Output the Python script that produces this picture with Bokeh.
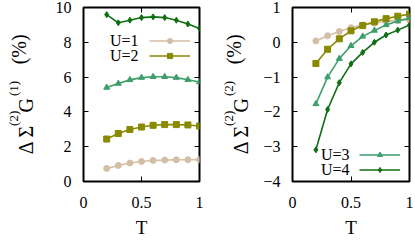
import math
from bokeh.plotting import figure
from bokeh.models import (FixedTicker, LinearAxis, Range1d, Label, Legend, LegendItem,
                          CustomJSTickFormatter)
from bokeh.layouts import row
from bokeh.embed import file_html
from bokeh.resources import INLINE
from bokeh.core.properties import value

# ---------------- data ----------------
T = [0.2, 0.3, 0.4, 0.5, 0.6, 0.7, 0.8, 0.9, 1.0]

# left panel: Delta Sigma^(2) G^(1) (%)
g1_u1 = [0.75, 0.92, 1.06, 1.15, 1.21, 1.23, 1.25, 1.25, 1.25]
g1_u2 = [2.44, 2.76, 2.99, 3.13, 3.23, 3.27, 3.27, 3.25, 3.19]
g1_u3 = [5.40, 5.63, 5.84, 5.97, 6.02, 6.02, 5.97, 5.85, 5.72]
g1_u4 = [9.59, 9.12, 9.27, 9.42, 9.46, 9.42, 9.27, 9.05, 8.80]

# right panel: Delta Sigma^(2) G^(2) (%)
g2_u1 = [0.04, 0.19, 0.31, 0.42, 0.50, 0.55, 0.60, 0.63, 0.64]
g2_u2 = [-0.61, -0.20, 0.10, 0.33, 0.48, 0.59, 0.68, 0.75, 0.81]
g2_u3 = [-1.77, -1.00, -0.47, -0.10, 0.17, 0.34, 0.50, 0.61, 0.70]
g2_u4 = [-3.09, -1.93, -1.16, -0.62, -0.29, 0.00, 0.21, 0.35, 0.50]

series_names = ["U=1", "U=2", "U=3", "U=4"]
colors = ["#d4bfa6", "#898900", "#3e9e6c", "#0f6e12"]
markers = ["circle", "square", "triangle", "diamond"]
marker_sizes = [6, 6, 6, 6]

x_ticks = [0, 0.5, 1]
x_tick_labels = ["0", "0.5", "1"]
y1_ticks = [0, 2, 4, 6, 8, 10]
y1_tick_labels = ["0", "2", "4", "6", "8", "10"]
y2_ticks = [1, 0, -1, -2, -3, -4]
y2_tick_labels = ["1", "0", "\u22121", "\u22122", "\u22123", "\u22124"]

y1_label_parts = ["\u0394", "\u03a3", "(2)", "G", "(1)", "(%)"]
y2_label_parts = ["\u0394", "\u03a3", "(2)", "G", "(2)", "(%)"]
x_label = "T"

FONT = "Liberation Serif"
H = 241
BORDER_TOP = 7
BORDER_BOTTOM = 60


def blank_axis(ticks):
    ax = LinearAxis(ticker=FixedTicker(ticks=ticks),
                    formatter=CustomJSTickFormatter(code="return ''"))
    ax.axis_line_color = None
    ax.major_tick_in = 5
    ax.major_tick_out = 0
    ax.minor_tick_line_color = None
    ax.major_tick_line_color = "black"
    ax.major_label_standoff = 0
    ax.major_label_text_font_size = "1px"
    return ax


def make_label_fig(width, label_parts, main_x, sup_x, pct_x):
    """A narrow, axis-less figure that carries the rotated y-axis title.
    Its frame is aligned with the neighbouring panel's frame, so the y range is
    chosen to make one data unit equal one pixel (measured from the page bottom)."""
    f = figure(width=width, height=H, x_range=Range1d(0, width),
               y_range=Range1d(BORDER_BOTTOM, H - BORDER_TOP),
               x_axis_type=None, y_axis_type=None, output_backend="svg",
               toolbar_location=None, min_border=0,
               min_border_left=0, min_border_right=0,
               min_border_top=BORDER_TOP, min_border_bottom=BORDER_BOTTOM)
    f.outline_line_color = None
    f.xgrid.visible = False
    f.ygrid.visible = False
    # (text, font size, centre x, centre y measured from the top)
    specs = [
        (label_parts[0], 20, main_x, 147.2),
        (label_parts[1], 20, main_x, 131.3),
        (label_parts[2], 13, sup_x, 117.8),
        (label_parts[3], 20, main_x, 104.7),
        (label_parts[4], 13, sup_x, 88.0),
        (label_parts[5], 20, pct_x, 48.8),
    ]
    for txt, fs, cx, cy in specs:
        f.text(x=[cx], y=[H - cy], text=[txt], angle=math.pi / 2,
               text_align="center", text_baseline="middle",
               text_font=value(FONT), text_font_size=value(f"{fs}px"),
               text_color="black")
    return f


def make_panel(width, bl, br, yr, yt, ytl, ydata, legend_idx, legend_text_pos, legend_loc):
    p = figure(width=width, height=H, x_range=Range1d(0, 1), y_range=Range1d(*yr),
               output_backend="svg", toolbar_location=None,
               min_border_left=bl, min_border_right=br,
               min_border_top=BORDER_TOP, min_border_bottom=BORDER_BOTTOM)
    p.xgrid.visible = False
    p.ygrid.visible = False
    p.outline_line_color = "black"
    p.outline_line_width = 2
    p.outline_line_alpha = 1

    for ax, ticks, labels in [(p.xaxis[0], x_ticks, x_tick_labels),
                              (p.yaxis[0], yt, ytl)]:
        ax.ticker = FixedTicker(ticks=ticks)
        ax.major_label_overrides = dict(zip(ticks, labels))
        ax.axis_line_color = None
        ax.major_tick_in = 5
        ax.major_tick_out = 0
        ax.minor_tick_line_color = None
        ax.major_tick_line_color = "black"
        ax.major_label_text_font = FONT
        ax.major_label_text_font_size = "16px"
        ax.major_label_text_color = "black"
        ax.major_label_standoff = 12
    p.xaxis[0].major_label_standoff = 15

    p.xaxis[0].axis_label = x_label
    p.xaxis[0].axis_label_text_font = FONT
    p.xaxis[0].axis_label_text_font_size = "19px"
    p.xaxis[0].axis_label_text_font_style = "normal"
    p.xaxis[0].axis_label_text_color = "black"
    p.xaxis[0].axis_label_standoff = 6

    p.add_layout(blank_axis(x_ticks), "above")
    p.add_layout(blank_axis(yt), "right")

    renderers = []
    for vals, c, m, s in zip(ydata, colors, markers, marker_sizes):
        l = p.line(T, vals, line_color=c, line_width=1.6)
        sc = p.scatter(T, vals, marker=m, size=s, fill_color=c, line_color=c)
        renderers.append((l, sc))

    # legend: text on the left, key on the right (gnuplot style)
    tx, ty0 = legend_text_pos
    items = []
    for k, i in enumerate(legend_idx):
        p.add_layout(Label(x=tx, y=ty0 - 15 * k, x_units="screen", y_units="screen",
                           text=series_names[i], text_align="right", text_baseline="middle",
                           text_font=FONT, text_font_size="16px", text_color="black"))
        items.append(LegendItem(label=value(""), renderers=list(renderers[i])))
    leg = Legend(items=items, location=legend_loc, glyph_width=41, glyph_height=13,
                 label_height=13, label_width=0, label_standoff=0, padding=0, margin=0,
                 spacing=2, border_line_color=None, background_fill_alpha=0,
                 label_text_font_size="1px")
    p.add_layout(leg, "center")
    return p


lab1 = make_label_fig(40, y1_label_parts, 25, 12.5, 18)
p1 = make_panel(172, 43, 13, (0, 10), y1_ticks, y1_tick_labels,
                [g1_u1, g1_u2, g1_u3, g1_u4], [0, 1], (55, 141), (66, 119.5))
lab2 = make_label_fig(43, y2_label_parts, 28, 15.5, 21)
p2 = make_panel(160, 37, 6, (-4, 1), y2_ticks, y2_tick_labels,
                [g2_u1, g2_u2, g2_u3, g2_u4], [2, 3], (57, 27), (67, 5.5))

layout = row(lab1, p1, lab2, p2)
open("out.html", "w").write(file_html(layout, INLINE))
